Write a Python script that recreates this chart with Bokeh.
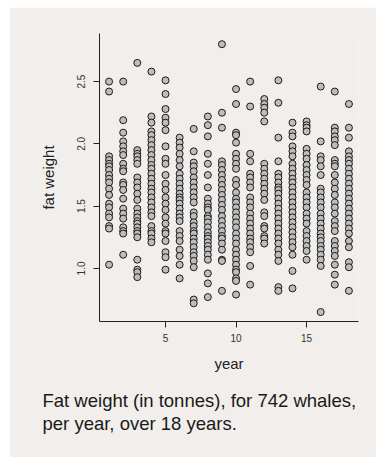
from bokeh.plotting import figure
from bokeh.models import Range1d, FixedTicker, Title, ColumnDataSource, PrintfTickFormatter
from bokeh.embed import file_html
from bokeh.resources import INLINE

# fat weight (tonnes) per year
y01 = [2.50, 2.42, 1.90, 1.87, 1.84, 1.82, 1.79, 1.75, 1.72, 1.69, 1.64, 1.59, 1.52, 1.49, 1.44, 1.41, 1.34, 1.32, 1.03]
y02 = [2.50, 2.19, 2.09, 2.02, 1.98, 1.94, 1.91, 1.84, 1.80, 1.78, 1.69, 1.67, 1.63, 1.56, 1.48, 1.44, 1.40, 1.33, 1.30, 1.28, 1.11]
y03 = [2.65, 1.95, 1.92, 1.90, 1.87, 1.84, 1.73, 1.69, 1.65, 1.60, 1.55, 1.48, 1.44, 1.41, 1.38, 1.36, 1.33, 1.30, 1.28, 1.25, 1.07, 0.99, 0.97, 0.93]
y04 = [2.58, 2.22, 2.17, 2.10, 2.07, 2.03, 1.99, 1.95, 1.91, 1.87, 1.83, 1.80, 1.76, 1.72, 1.68, 1.64, 1.61, 1.57, 1.53, 1.49, 1.45, 1.42, 1.34, 1.30, 1.28, 1.24, 1.21]
y05 = [2.51, 2.40, 2.28, 2.21, 2.17, 2.11, 1.98, 1.88, 1.84, 1.75, 1.68, 1.63, 1.57, 1.52, 1.47, 1.41, 1.36, 1.30, 1.28, 1.22, 1.13, 1.09, 0.99]
y06 = [2.05, 2.01, 1.97, 1.92, 1.87, 1.82, 1.76, 1.72, 1.68, 1.64, 1.60, 1.57, 1.55, 1.52, 1.48, 1.44, 1.41, 1.38, 1.30, 1.26, 1.22, 1.15, 1.10, 1.03, 0.92]
y07 = [2.12, 1.94, 1.85, 1.82, 1.78, 1.73, 1.69, 1.65, 1.61, 1.57, 1.53, 1.45, 1.42, 1.37, 1.34, 1.30, 1.28, 1.24, 1.21, 1.17, 1.13, 1.10, 1.06, 1.01, 0.75, 0.72]
y08 = [2.22, 2.15, 2.06, 1.92, 1.84, 1.75, 1.65, 1.56, 1.52, 1.49, 1.47, 1.42, 1.40, 1.37, 1.33, 1.29, 1.26, 1.24, 1.21, 1.18, 1.15, 1.11, 1.07, 0.96, 0.88, 0.77]
y09 = [2.80, 2.25, 2.13, 1.86, 1.83, 1.79, 1.75, 1.71, 1.67, 1.63, 1.59, 1.55, 1.51, 1.47, 1.42, 1.38, 1.34, 1.30, 1.26, 1.24, 1.20, 1.15, 1.07, 1.06, 0.82]
y10 = [2.44, 2.32, 2.09, 2.07, 2.01, 1.92, 1.88, 1.84, 1.80, 1.71, 1.67, 1.61, 1.56, 1.53, 1.49, 1.45, 1.41, 1.37, 1.33, 1.28, 1.24, 1.20, 1.15, 1.11, 1.07, 1.03, 0.99, 0.97, 0.92, 0.90, 0.79]
y11 = [2.50, 2.30, 1.92, 1.86, 1.76, 1.73, 1.69, 1.65, 1.57, 1.53, 1.49, 1.44, 1.40, 1.36, 1.32, 1.28, 1.24, 1.21, 1.17, 1.13, 1.02, 0.87]
y12 = [2.36, 2.32, 2.29, 2.25, 2.18, 1.84, 1.80, 1.76, 1.72, 1.68, 1.64, 1.60, 1.55, 1.45, 1.42, 1.34, 1.32, 1.26, 1.24, 1.20]
y13 = [2.51, 2.33, 2.05, 1.86, 1.76, 1.73, 1.69, 1.65, 1.63, 1.60, 1.56, 1.52, 1.48, 1.44, 1.40, 1.36, 1.32, 1.28, 1.24, 1.20, 1.15, 1.11, 1.06, 0.85, 0.82]
y14 = [2.17, 2.09, 2.06, 1.98, 1.94, 1.90, 1.84, 1.80, 1.76, 1.72, 1.69, 1.65, 1.61, 1.57, 1.53, 1.49, 1.45, 1.41, 1.37, 1.33, 1.29, 1.25, 1.21, 1.17, 1.11, 0.98, 0.84]
y15 = [2.18, 2.15, 2.13, 2.10, 1.96, 1.92, 1.88, 1.83, 1.79, 1.75, 1.71, 1.67, 1.61, 1.57, 1.53, 1.49, 1.44, 1.40, 1.36, 1.30, 1.26, 1.22, 1.18, 1.14, 1.07]
y16 = [2.46, 2.02, 1.90, 1.87, 1.82, 1.75, 1.64, 1.61, 1.57, 1.53, 1.49, 1.44, 1.40, 1.36, 1.32, 1.28, 1.25, 1.22, 1.18, 1.15, 1.11, 1.07, 1.02, 0.65]
y17 = [2.42, 2.13, 2.10, 2.06, 2.03, 1.99, 1.87, 1.84, 1.82, 1.75, 1.69, 1.64, 1.59, 1.53, 1.49, 1.44, 1.38, 1.34, 1.30, 1.22, 1.18, 1.14, 1.10, 1.03, 0.95, 0.87]
y18 = [2.32, 2.13, 2.05, 1.94, 1.90, 1.87, 1.84, 1.80, 1.76, 1.72, 1.68, 1.64, 1.60, 1.56, 1.52, 1.48, 1.44, 1.40, 1.36, 1.32, 1.28, 1.22, 1.17, 1.05, 1.01, 0.82]

by_year = [y01, y02, y03, y04, y05, y06, y07, y08, y09, y10,
           y11, y12, y13, y14, y15, y16, y17, y18]
years = list(range(1, 19))

x_ticks = [5, 10, 15]
y_ticks = [1.0, 1.5, 2.0, 2.5]
x_title = "year"
y_title = "fat weight"
caption_1 = "Fat weight (in tonnes), for 742 whales,"
caption_2 = "per year, over 18 years."

xs, ys = [], []
for yr, vals in zip(years, by_year):
    for v in vals:
        xs.append(yr)
        ys.append(v)
src = ColumnDataSource(data=dict(year=xs, fat=ys))

BG = "#f1eeeb"
FONT = "Liberation Sans"
AX = "#222222"

p = figure(width=367, height=450, output_backend="svg", toolbar_location=None,
           x_range=Range1d(0.32, 18.68), y_range=Range1d(0.574, 2.886),
           min_border_left=90, min_border_right=18, min_border_top=26,
           min_border_bottom=136, margin=(7, 0, 2, 9))
p.background_fill_color = BG
p.border_fill_color = BG
p.outline_line_color = None
p.grid.visible = False

p.scatter("year", "fat", source=src, size=7, fill_color="#bdbdbd",
          line_color="#1a1a1a", line_width=1)

for ax, ticks in ((p.xaxis[0], x_ticks), (p.yaxis[0], y_ticks)):
    ax.ticker = FixedTicker(ticks=ticks)
    ax.minor_tick_line_color = None
    ax.major_tick_in = 0
    ax.major_tick_out = 6
    ax.axis_line_color = AX
    ax.major_tick_line_color = AX
    ax.major_label_text_font = FONT
    ax.major_label_text_font_size = "10px"
    ax.major_label_text_color = "#333333"
    ax.axis_label_text_font = FONT
    ax.axis_label_text_font_size = "15px"
    ax.axis_label_text_font_style = "normal"
    ax.axis_label_text_color = "#222222"

p.xaxis[0].axis_label = x_title
p.yaxis[0].axis_label = y_title
p.xaxis[0].major_label_standoff = 6
p.xaxis[0].axis_label_standoff = 10
p.yaxis[0].major_label_standoff = 8
p.yaxis[0].major_label_orientation = "vertical"
p.yaxis[0].axis_label_standoff = 18
p.yaxis[0].formatter = PrintfTickFormatter(format="%.1f")

p.add_layout(Title(text=caption_1 + "\n" + caption_2, align="left", offset=-57,
                   standoff=27, text_line_height=1.1,
                   text_font=FONT, text_font_size="18.5px",
                   text_font_style="normal", text_color="#1a1a1a"), "below")

open("out.html", "w").write(file_html(p, INLINE))
